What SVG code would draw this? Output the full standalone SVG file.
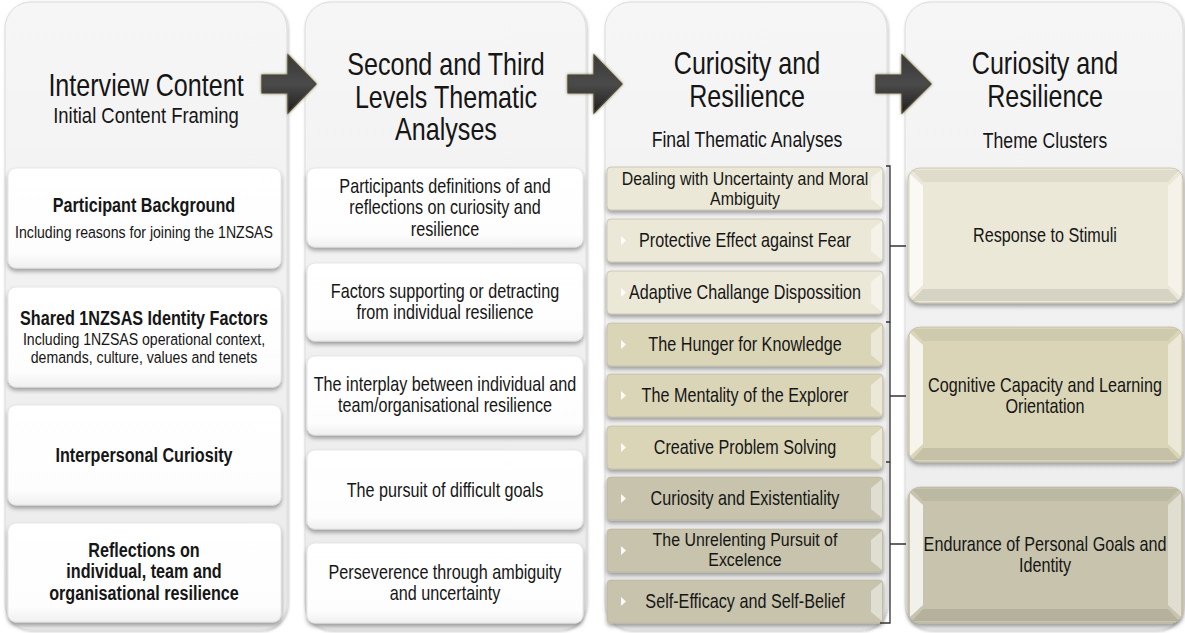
<svg xmlns="http://www.w3.org/2000/svg" width="1185" height="633" viewBox="0 0 1185 633">
<defs>
<linearGradient id="gPanel" x1="0" y1="0" x2="0" y2="1">
<stop offset="0" stop-color="#f6f6f6"/><stop offset="1" stop-color="#ebebeb"/>
</linearGradient>
<linearGradient id="gWhite" x1="0" y1="0" x2="0" y2="1">
<stop offset="0" stop-color="#ffffff"/><stop offset="0.85" stop-color="#fdfdfd"/><stop offset="1" stop-color="#f0f0f0"/>
</linearGradient>
<linearGradient id="gArrow" x1="0" y1="0" x2="0" y2="1">
<stop offset="0" stop-color="#3a3a3a"/><stop offset="0.5" stop-color="#4a4a4a"/><stop offset="1" stop-color="#1f1f1f"/>
</linearGradient>
<filter id="sh" x="-10%" y="-15%" width="120%" height="140%">
<feDropShadow dx="0" dy="3" stdDeviation="2.2" flood-color="#000" flood-opacity="0.35"/>
</filter>
<filter id="shp" x="-5%" y="-5%" width="110%" height="110%">
<feDropShadow dx="1" dy="1" stdDeviation="1.5" flood-color="#000" flood-opacity="0.25"/>
</filter>
<filter id="glow" x="-30%" y="-30%" width="160%" height="160%">
<feDropShadow dx="0" dy="0" stdDeviation="1.6" flood-color="#6b6240" flood-opacity="0.9"/>
</filter>
</defs>
<style>
.panel{fill:url(#gPanel);stroke:#dcdcdc;stroke-width:1;filter:url(#shp)}
.wbox{fill:url(#gWhite);stroke:#e2e2e2;stroke-width:0.8;filter:url(#sh)}
.bbox{stroke:#b9b49a;stroke-width:0.6;filter:url(#sh)}
.c1{fill:#ebe8d7}
.c2{fill:#dad5b7}
.c3{fill:#c7c3ac}
.bevL{fill:#ffffff;opacity:0.75}
.bevR{fill:#ffffff;opacity:0.45}
.bevT{fill:#000000;opacity:0.05}
.bevB{fill:#000000;opacity:0.09}
.tri{fill:#ffffff;opacity:0.9}
text{font-family:"Liberation Sans",Arial,Helvetica,sans-serif;fill:#161616;text-anchor:middle}
.h{font-size:31px}
.s{font-size:22px}
.s2{font-size:21.5px}
.b{font-size:19.5px}
.b2{font-size:18.5px}
.bb{font-size:19.5px;font-weight:bold}
.sm{font-size:17px}
.arrow{fill:url(#gArrow);stroke:#4d4630;stroke-width:1.2;filter:url(#glow)}
.br{fill:none;stroke:#333333;stroke-width:1.3}
</style>

<g id="panels">
<rect class="panel" x="5" y="2" width="282" height="628" rx="26"/>
<rect class="panel" x="305" y="2" width="281" height="628" rx="26"/>
<rect class="panel" x="605" y="2" width="282" height="628" rx="26"/>
<rect class="panel" x="905" y="2" width="278" height="628" rx="26"/>
</g>

<g id="headers">
<g id="h1">
<text class="h" transform="translate(146 96) scale(0.81 1)">Interview Content</text>
<text class="s" transform="translate(146 123) scale(0.84 1)">Initial Content Framing</text>
</g>
<g id="h2">
<text class="h" transform="translate(446 75) scale(0.81 1)"><tspan x="0" y="0">Second and Third</tspan><tspan x="0" y="33">Levels Thematic</tspan><tspan x="0" y="65">Analyses</tspan></text>
</g>
<g id="h3">
<text class="h" transform="translate(747 74) scale(0.81 1)"><tspan x="0" y="0">Curiosity and</tspan><tspan x="0" y="33">Resilience</tspan></text>
<text class="s2" transform="translate(747 147) scale(0.82 1)">Final Thematic Analyses</text>
</g>
<g id="h4">
<text class="h" transform="translate(1045 74) scale(0.81 1)"><tspan x="0" y="0">Curiosity and</tspan><tspan x="0" y="33">Resilience</tspan></text>
<text class="s2" transform="translate(1045 148) scale(0.82 1)">Theme Clusters</text>
</g>
</g>

<g id="col1">
<g id="n1a">
<rect class="wbox" x="8" y="168" width="273" height="100" rx="8"/>
<text class="bb" transform="translate(144 212) scale(0.83 1)">Participant Background</text>
<text class="sm" transform="translate(144 238) scale(0.83 1)">Including reasons for joining the 1NZSAS</text>
</g>
<g id="n1b">
<rect class="wbox" x="8" y="287" width="273" height="100" rx="8"/>
<text class="bb" transform="translate(144 325) scale(0.83 1)">Shared 1NZSAS Identity Factors</text>
<text class="sm" transform="translate(144 345) scale(0.83 1)"><tspan x="0" y="0">Including 1NZSAS operational context,</tspan><tspan x="0" y="18.5">demands, culture, values and tenets</tspan></text>
</g>
<g id="n1c">
<rect class="wbox" x="8" y="405" width="273" height="100" rx="8"/>
<text class="bb" transform="translate(144 462) scale(0.83 1)">Interpersonal Curiosity</text>
</g>
<g id="n1d">
<rect class="wbox" x="8" y="523" width="273" height="99" rx="8"/>
<text class="bb" transform="translate(144 557) scale(0.83 1)"><tspan x="0" y="0">Reflections on</tspan><tspan x="0" y="21.5">individual, team and</tspan><tspan x="0" y="43">organisational resilience</tspan></text>
</g>
</g>

<g id="col2">
<g id="n2a">
<rect class="wbox" x="307" y="168" width="276" height="79" rx="8"/>
<text class="b" transform="translate(445 193) scale(0.83 1)"><tspan x="0" y="0">Participants definitions of and</tspan><tspan x="0" y="21.5">reflections on curiosity and</tspan><tspan x="0" y="43">resilience</tspan></text>
</g>
<g id="n2b">
<rect class="wbox" x="307" y="263" width="276" height="78" rx="8"/>
<text class="b" transform="translate(445 298) scale(0.83 1)"><tspan x="0" y="0">Factors supporting or detracting</tspan><tspan x="0" y="21.5">from individual resilience</tspan></text>
</g>
<g id="n2c">
<rect class="wbox" x="307" y="356" width="276" height="79" rx="8"/>
<text class="b" transform="translate(445 391) scale(0.83 1)"><tspan x="0" y="0">The interplay between individual and</tspan><tspan x="0" y="21">team/organisational resilience</tspan></text>
</g>
<g id="n2d">
<rect class="wbox" x="307" y="450" width="276" height="79" rx="8"/>
<text class="b" transform="translate(445 497) scale(0.83 1)">The pursuit of difficult goals</text>
</g>
<g id="n2e">
<rect class="wbox" x="307" y="543" width="276" height="80" rx="8"/>
<text class="b" transform="translate(445 579) scale(0.83 1)"><tspan x="0" y="0">Perseverence through ambiguity</tspan><tspan x="0" y="21.5">and uncertainty</tspan></text>
</g>
</g>

<g id="col3">
<g id="n3a">
<rect class="bbox c1" x="607" y="167" width="276" height="43" rx="4"/>
<polygon class="bevR" points="882,169 882,208 871,199 871,178"/>
<text class="b2" transform="translate(745 185) scale(0.86 1)"><tspan x="0" y="0">Dealing with Uncertainty and Moral</tspan><tspan x="0" y="20.5">Ambiguity</tspan></text>
</g>
<g id="n3b">
<rect class="bbox c1" x="607" y="219" width="276" height="43" rx="4"/>
<polygon class="tri" points="621,236 626,240.5 621,245"/>
<polygon class="bevR" points="882,221 882,260 871,251 871,230"/>
<text class="b" transform="translate(745 247) scale(0.83 1)">Protective Effect against Fear</text>
</g>
<g id="n3c">
<rect class="bbox c1" x="607" y="271" width="276" height="43" rx="4"/>
<polygon class="tri" points="621,288 626,292.5 621,297"/>
<polygon class="bevR" points="882,273 882,312 871,303 871,282"/>
<text class="b" transform="translate(745 299) scale(0.83 1)">Adaptive Challange Dispossition</text>
</g>
<g id="n3d">
<rect class="bbox c2" x="607" y="323" width="276" height="43" rx="4"/>
<polygon class="tri" points="621,340 626,344.5 621,349"/>
<polygon class="bevR" points="882,325 882,364 871,355 871,334"/>
<text class="b" transform="translate(745 351) scale(0.83 1)">The Hunger for Knowledge</text>
</g>
<g id="n3e">
<rect class="bbox c2" x="607" y="374" width="276" height="43" rx="4"/>
<polygon class="tri" points="621,391 626,395.5 621,400"/>
<polygon class="bevR" points="882,376 882,415 871,406 871,385"/>
<text class="b" transform="translate(745 402) scale(0.83 1)">The Mentality of the Explorer</text>
</g>
<g id="n3f">
<rect class="bbox c2" x="607" y="426" width="276" height="43" rx="4"/>
<polygon class="tri" points="621,443 626,447.5 621,452"/>
<polygon class="bevR" points="882,428 882,467 871,458 871,437"/>
<text class="b" transform="translate(745 454) scale(0.83 1)">Creative Problem Solving</text>
</g>
<g id="n3g">
<rect class="bbox c3" x="607" y="477" width="276" height="43" rx="4"/>
<polygon class="tri" points="621,494 626,498.5 621,503"/>
<polygon class="bevR" points="882,479 882,518 871,509 871,488"/>
<text class="b" transform="translate(745 505) scale(0.83 1)">Curiosity and Existentiality</text>
</g>
<g id="n3h">
<rect class="bbox c3" x="607" y="529" width="276" height="43" rx="4"/>
<polygon class="tri" points="621,546 626,550.5 621,555"/>
<polygon class="bevR" points="882,531 882,570 871,561 871,540"/>
<text class="b2" transform="translate(745 546) scale(0.86 1)"><tspan x="0" y="0">The Unrelenting Pursuit of</tspan><tspan x="0" y="20.5">Excelence</tspan></text>
</g>
<g id="n3i">
<rect class="bbox c3" x="607" y="580" width="276" height="43" rx="4"/>
<polygon class="tri" points="621,597 626,601.5 621,606"/>
<polygon class="bevR" points="882,582 882,621 871,612 871,591"/>
<text class="b" transform="translate(745 608) scale(0.83 1)">Self-Efficacy and Self-Belief</text>
</g>
</g>

<g id="col4">
<g id="n4a">
<rect class="bbox c1" x="908" y="168" width="275" height="135" rx="12"/>
<polygon class="bevT" points="912,170 1179,170 1168,182 923,182"/>
<polygon class="bevB" points="912,301 1179,301 1168,289 923,289"/>
<polygon class="bevL" points="910,174 923,186 923,285 910,297"/>
<polygon class="bevR" points="1181,174 1168,186 1168,285 1181,297"/>
<text class="b" transform="translate(1045 242) scale(0.83 1)">Response to Stimuli</text>
</g>
<g id="n4b">
<rect class="bbox c2" x="908" y="327" width="275" height="135" rx="12"/>
<polygon class="bevT" points="912,329 1179,329 1168,341 923,341"/>
<polygon class="bevB" points="912,460 1179,460 1168,448 923,448"/>
<polygon class="bevL" points="910,333 923,345 923,444 910,456"/>
<polygon class="bevR" points="1181,333 1168,345 1168,444 1181,456"/>
<text class="b" transform="translate(1045 392) scale(0.83 1)"><tspan x="0" y="0">Cognitive Capacity and Learning</tspan><tspan x="0" y="21">Orientation</tspan></text>
</g>
<g id="n4c">
<rect class="bbox c3" x="908" y="487" width="275" height="136" rx="12"/>
<polygon class="bevT" points="912,489 1179,489 1168,501 923,501"/>
<polygon class="bevB" points="912,621 1179,621 1168,609 923,609"/>
<polygon class="bevL" points="910,493 923,505 923,605 910,617"/>
<polygon class="bevR" points="1181,493 1168,505 1168,605 1181,617"/>
<text class="b" transform="translate(1045 551) scale(0.83 1)"><tspan x="0" y="0">Endurance of Personal Goals and</tspan><tspan x="0" y="21">Identity</tspan></text>
</g>
</g>

<g id="connectors">
<path class="arrow" d="M262,75 H288 V55 L316,84 L288,113 V93 H262 Z"/>
<path class="arrow" d="M568,75 H594 V55 L622,84 L594,113 V93 H568 Z"/>
<path class="arrow" d="M876,75 H902 V55 L931,84 L902,113 V93 H876 Z"/>
<path class="br" d="M886,166 H890 V322 H886 M890,246 H906"/>
<path class="br" d="M890,322 V462 H886 M890,396 H906"/>
<path class="br" d="M890,462 V623 H880 M890,544 H906"/>
</g>
</svg>
